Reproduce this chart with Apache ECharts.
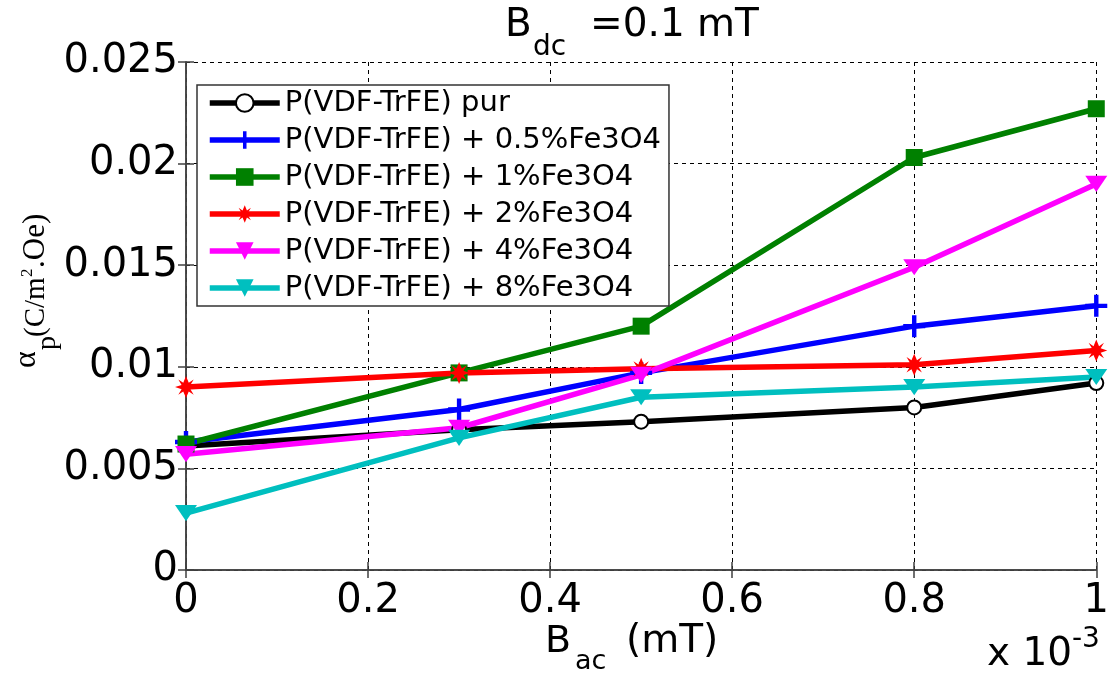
<!DOCTYPE html>
<html>
<head>
<meta charset="utf-8">
<script src="https://cdn.jsdelivr.net/npm/echarts@6/dist/echarts.min.js"></script>
<style>
  html, body { margin: 0; padding: 0; background: #fff; }
  #chart { width: 1112px; height: 676px; }
</style>
</head>
<body>
<div id="chart"></div>
<script>
// B_ac values, x 10^-3 mT
const bac = [0, 0.3, 0.5, 0.8, 1]
const names = [
  'P(VDF-TrFE) pur',
  'P(VDF-TrFE) + 0.5%Fe3O4',
  'P(VDF-TrFE) + 1%Fe3O4',
  'P(VDF-TrFE) + 2%Fe3O4',
  'P(VDF-TrFE) + 4%Fe3O4',
  'P(VDF-TrFE) + 8%Fe3O4'
]
const pur = [0.0061, 0.0069, 0.0073, 0.0080, 0.0092]
const fe05 = [0.0063, 0.0079, 0.0097, 0.0120, 0.0130]
const fe1 = [0.0062, 0.0097, 0.0120, 0.0203, 0.0227]
const fe2 = [0.0090, 0.0097, 0.0099, 0.0101, 0.0108]
const fe4 = [0.0057, 0.0070, 0.0096, 0.0149, 0.0190]
const fe8 = [0.0028, 0.0065, 0.0085, 0.0090, 0.0095]
const xTicks = [0, 0.2, 0.4, 0.6, 0.8, 1]
const yTicks = [0, 0.005, 0.01, 0.015, 0.02, 0.025]

const colors = ['#000000', '#0000ff', '#008000', '#ff0000', '#ff00ff', '#00bfbf']
const plusPath = 'path://M8,0 H12 V8 H20 V12 H12 V20 H8 V12 H0 V8 H8 Z'
const starPath = 'path://M10,0 L12.5,6 L17,3 L14,8 L20,10 L14,12 L17,17 L12.5,14 L10,20 L7.5,14 L3,17 L6,12 L0,10 L6,8 L3,3 L7.5,6 Z'
const triPath = 'path://M0,0 H20 L10,17 Z'
const symbols = ['emptyCircle', plusPath, 'rect', starPath, triPath, triPath]
const sizes = [14, 22, 17, 22, [22, 19], [22, 19]]
const allData = [pur, fe05, fe1, fe2, fe4, fe8]

var tickFont = 'DejaVu Sans'
var myChart = echarts.init(document.getElementById('chart'))

function pairs(ys) {
  return bac.map((x, i) => [x, ys[i]])
}

function txt(x, y, text, size, family) {
  return {
    type: 'text',
    x: x,
    y: y,
    style: {
      text: text,
      fontSize: size,
      fontFamily: family || tickFont,
      fill: '#000',
      textAlign: 'left',
      textVerticalAlign: 'middle'
    }
  }
}

var axisLineStyle = { color: '#404040', width: 1.5 }

var option = {
  animation: false,
  backgroundColor: '#fff',
  grid: {
    left: 186,
    right: 9,
    top: 62,
    bottom: 106
  },
  legend: {
    orient: 'vertical',
    left: 197,
    top: 85,
    padding: [3, 8, 3, 10],
    backgroundColor: '#fff',
    borderColor: '#333',
    borderWidth: 1.5,
    itemWidth: 70,
    itemHeight: 22,
    itemGap: 7,
    selectedMode: false,
    lineStyle: { width: 5.5 },
    textStyle: {
      fontFamily: tickFont,
      fontSize: 29,
      lineHeight: 30,
      color: '#000'
    },
    data: names
  },
  xAxis: [
    {
      type: 'value',
      min: xTicks[0],
      max: xTicks[xTicks.length - 1],
      interval: 0.2,
      axisLine: { show: true, lineStyle: axisLineStyle },
      axisTick: { show: true, inside: true, length: 8, lineStyle: axisLineStyle },
      axisLabel: {
        fontFamily: tickFont,
        fontSize: 40,
        color: '#000',
        margin: 12
      },
      splitLine: {
        show: true,
        lineStyle: { color: '#000', type: [4, 4], width: 1 }
      }
    },
    {
      type: 'value',
      position: 'top',
      min: xTicks[0],
      max: xTicks[xTicks.length - 1],
      interval: 0.2,
      axisLine: { show: true, lineStyle: axisLineStyle },
      axisTick: { show: true, inside: true, length: 8, lineStyle: axisLineStyle },
      axisLabel: { show: false },
      splitLine: { show: false }
    }
  ],
  yAxis: [
    {
      type: 'value',
      min: yTicks[0],
      max: yTicks[yTicks.length - 1],
      interval: 0.005,
      axisLine: { show: true, lineStyle: axisLineStyle },
      axisTick: { show: true, inside: true, length: 8, lineStyle: axisLineStyle },
      axisLabel: {
        fontFamily: tickFont,
        fontSize: 40,
        color: '#000',
        margin: 8
      },
      splitLine: {
        show: true,
        lineStyle: { color: '#000', type: [4, 4], width: 1 }
      }
    },
    {
      type: 'value',
      position: 'right',
      min: yTicks[0],
      max: yTicks[yTicks.length - 1],
      interval: 0.005,
      axisLine: { show: true, lineStyle: axisLineStyle },
      axisTick: { show: true, inside: true, length: 8, lineStyle: axisLineStyle },
      axisLabel: { show: false },
      splitLine: { show: false }
    }
  ],
  series: names.map((name, i) => ({
    name: name,
    type: 'line',
    data: pairs(allData[i]),
    symbol: symbols[i],
    symbolSize: sizes[i],
    symbolKeepAspect: true,
    showAllSymbol: true,
    lineStyle: { color: colors[i], width: 5.5 },
    itemStyle: { color: colors[i], borderColor: colors[i], borderWidth: i === 0 ? 4 : 0 },
    emphasis: { disabled: true },
    silent: true
  })),
  graphic: [
    // title: B_dc =0.1 mT
    txt(505, 26, 'B', 39),
    txt(533, 48, 'dc', 28),
    txt(590, 26, '=0.1 mT', 39),
    // x name: B_ac (mT)
    txt(545, 642, 'B', 38),
    txt(575, 662, 'ac', 27),
    txt(626, 642, '(mT)', 39),
    // x 10^-3
    txt(987, 655, 'x 10', 39),
    txt(1072, 640, '-3', 28),
    // y name
    {
      type: 'group',
      x: 0,
      y: 368,
      rotation: Math.PI / 2,
      children: [
        txt(0, 27, 'α', 32, 'Liberation Serif'),
        txt(18, 48, 'p', 28, 'Liberation Serif'),
        txt(31, 36, '(C/m', 29, 'Liberation Serif'),
        txt(91, 28, '2', 17, 'Liberation Serif'),
        txt(100, 36, '.Oe)', 31, 'Liberation Serif')
      ]
    }
  ]
}
myChart.setOption(option)
</script>
</body>
</html>
